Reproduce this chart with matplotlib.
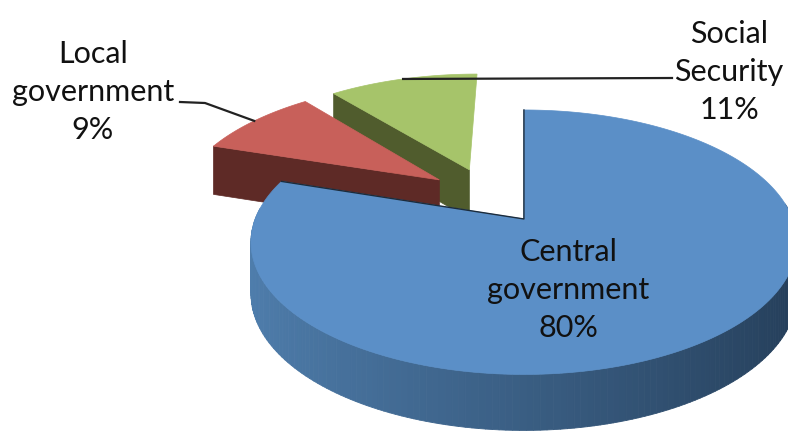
import numpy as np
import matplotlib.pyplot as plt
from matplotlib.collections import PolyCollection
from matplotlib.colors import to_rgb

labels = ['Central\ngovernment', 'Local\ngovernment', 'Social\nSecurity']
values = [80, 9, 11]
top_colors = ['#5B8FC7', '#C8605A', '#A6C46A']
side_colors = ['#4F7EAD', '#5E2A26', '#505C2D']
side_dark = ['#243D58', '#5E2A26', '#505C2D']

# tilted pie geometry (pixels)
cx, cy = 488.0, 195.4
rx, ry = 260.0, 120.0
persp = 0.17
vx = 524.0
depth = 50.0
explode = 0.235


def project(px, py):
    k = 1.0 / (1.0 + persp * py)
    return vx + (cx + rx * px - vx) * k, cy - ry * py * k


def thick(py):
    return depth * np.sqrt(1.0 / (1.0 + persp * py))


def arc(ox, oy, a1, a2, n=120):
    t = np.radians(np.linspace(a1, a2, n))
    return project(ox + np.cos(t), oy + np.sin(t)) + (thick(oy + np.sin(t)),)


fig = plt.figure(figsize=(7.88, 4.32), dpi=100)
ax = fig.add_axes([0, 0, 1, 1])
ax.set_xlim(0, 788)
ax.set_ylim(432, 0)
ax.axis('off')

total = sum(values)
slices = []
start = 90.0
for i, v in enumerate(values):
    end = start - 360.0 * v / total
    mid = np.radians((start + end) / 2)
    ox, oy = explode * np.cos(mid), explode * np.sin(mid)
    apex = project(ox, oy)
    slices.append((i, end, start, ox, oy, apex))
    start = end

# paint from back to front
slices.sort(key=lambda s: s[5][1])
z = 1
for i, lo, hi, ox, oy, apex in slices:
    ad = thick(oy)
    # outer wall, only the part turned to the viewer
    xs, ys, ds = arc(ox, oy, lo, hi, 240)
    ang = np.linspace(lo, hi, len(xs))
    c1, c2 = np.array(to_rgb(side_colors[i])), np.array(to_rgb(side_dark[i]))
    quads, cols = [], []
    for j in range(len(xs) - 1):
        if np.sin(np.radians(ang[j])) > 0.1:
            continue
        quads.append([(xs[j], ys[j]), (xs[j + 1], ys[j + 1]),
                      (xs[j + 1], ys[j + 1] + ds[j + 1]), (xs[j], ys[j] + ds[j])])
        w = (np.cos(np.radians(ang[j])) + 1) / 2
        cols.append(c1 * (1 - w) + c2 * w)
    if quads:
        ax.add_collection(PolyCollection(quads, facecolors=cols, edgecolors=cols,
                                         linewidths=0.6, zorder=z))
    # radial faces turned to the viewer
    for a, nrm in [(lo, lo - 90), (hi, hi + 90)]:
        if np.sin(np.radians(nrm)) < -0.01:
            ex, ey, ed = arc(ox, oy, a, a, 1)
            ax.fill([apex[0], ex[0], ex[0], apex[0]],
                    [apex[1], ey[0], ey[0] + ed[0], apex[1] + ad],
                    color=side_dark[i], lw=0.5, zorder=z + 0.5)
    # top face
    ax.fill(np.r_[apex[0], xs], np.r_[apex[1], ys], color=top_colors[i],
            lw=0.5, zorder=z + 1)
    if i == 0:
        e1 = arc(ox, oy, lo, lo, 1)
        e2 = arc(ox, oy, hi, hi, 1)
        ax.plot([e1[0][0], apex[0], e2[0][0]], [e1[1][0], apex[1], e2[1][0]],
                color='#1c2c3c', lw=1.0, zorder=z + 1.2)
    z += 3

font = dict(family=['Lato', 'DejaVu Sans'], fontsize=22, color='#111111',
            ha='center', va='center', linespacing=1.45, zorder=30)
by_i = {s[0]: s for s in slices}

# Central government
ax.text(568, 290, f"{labels[0]}\n{values[0]}%", **font)

# Local government with leader
i, lo, hi, ox, oy, apex = by_i[1]
px, py, _ = arc(ox, oy, (lo + hi) / 2, (lo + hi) / 2, 1)
ax.text(93, 92, f"{labels[1]}\n{values[1]}%", **font)
ax.plot([180, 205, px[0]], [102, 103, py[0]], color='#222222', lw=1.6, zorder=25)

# Social Security with leader
i, lo, hi, ox, oy, apex = by_i[2]
px, py, _ = arc(ox, oy, (lo + hi) / 2, (lo + hi) / 2, 1)
ax.text(729, 72, f"{labels[2]}\n{values[2]}%", **font)
ax.plot([px[0], 672], [py[0], 78], color='#222222', lw=1.6, zorder=25)

fig.savefig('out.png', dpi=100)
